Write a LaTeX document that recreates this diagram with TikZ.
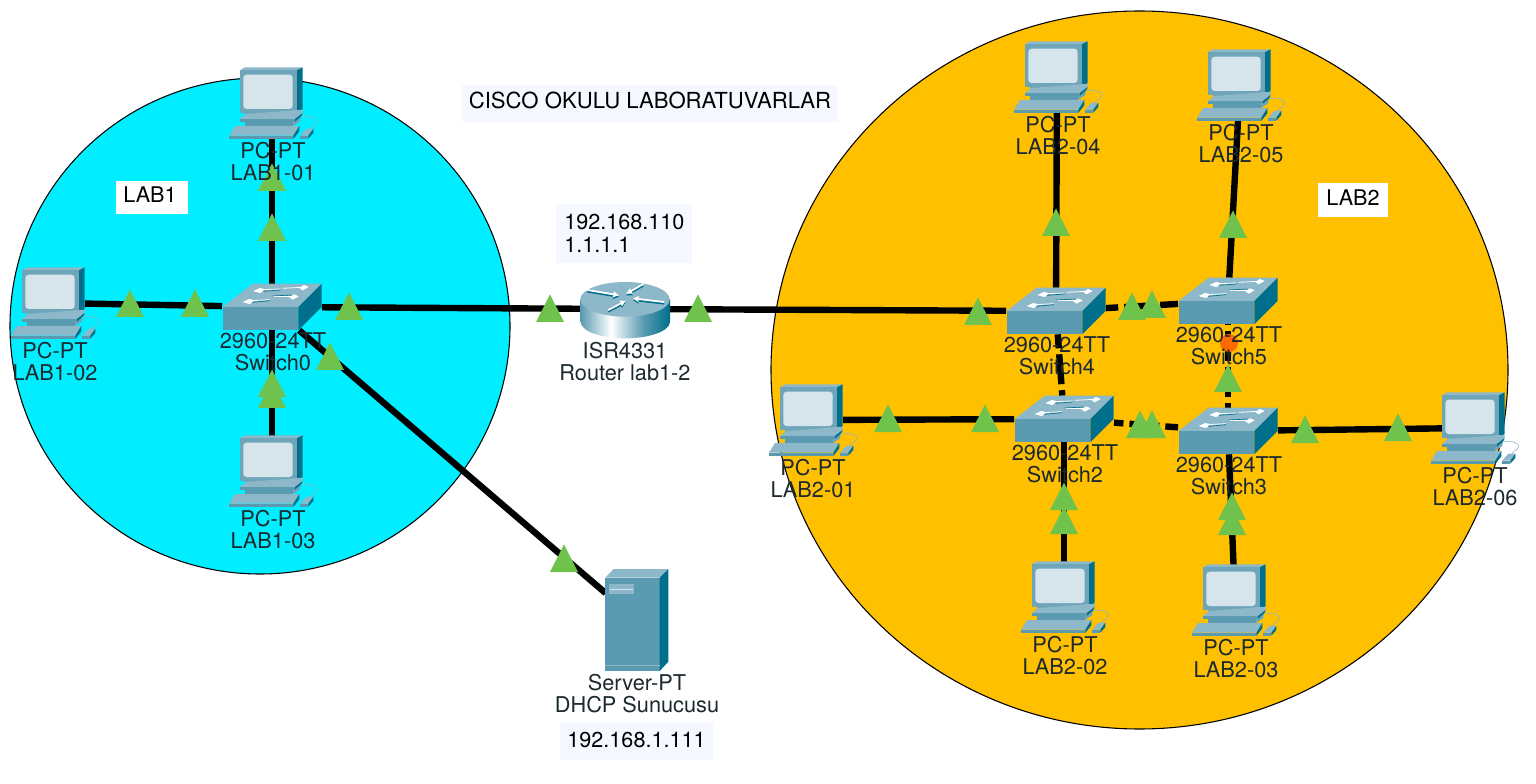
\documentclass[tikz,border=0pt]{standalone}
\usepackage{fontspec}
\setmainfont{TeX Gyre Heros}
\usetikzlibrary{calc,arrows.meta}
\definecolor{cyanbg}{HTML}{00EEFF}
\definecolor{orangebg}{HTML}{FFC000}
\definecolor{boxbg}{HTML}{F6F8FF}
\definecolor{tri}{HTML}{6FC24C}
\definecolor{dot}{HTML}{FF6A00}
\definecolor{ictop}{HTML}{8DB8C9}
\definecolor{icfront}{HTML}{5A9BB2}
\definecolor{icside}{HTML}{006F8C}
\definecolor{icscreen}{HTML}{D6E4EC}
\definecolor{icmid}{HTML}{6FA5B9}
\definecolor{txt}{HTML}{1C2A30}
\pgfdeclarehorizontalshading{rtrside}{100bp}{color(0bp)=(icfront); color(25bp)=(icfront); color(42bp)=(white); color(60bp)=(icfront); color(75bp)=(icside); color(100bp)=(icside)}
\tikzset{
  x=0.75pt,y=-0.75pt,
  region/.style={draw=black,line width=0.8pt},
  wire/.style={line width=4.8pt,draw=black},
  xwire/.style={wire,dash pattern=on 22.5pt off 4.5pt},
  pcbox/.style={minimum width=46.5pt,minimum height=52.5pt,inner sep=0pt,outer sep=0pt},
  swbox/.style={minimum width=75pt,minimum height=35pt,inner sep=0pt,outer sep=0pt},
  rtbox/.style={minimum width=67pt,minimum height=43pt,inner sep=0pt,outer sep=0pt},
  svbox/.style={minimum width=47pt,minimum height=76pt,inner sep=0pt,outer sep=0pt},
  devlabel/.style={inner sep=0pt,align=center,text=txt,font=\fontsize{16.3}{16.5}\selectfont},
  notetext/.style={inner sep=0pt,font=\fontsize{16.2}{17.3}\selectfont,text=black,align=left},
  icon/.style={x=0.25pt,y=-0.25pt},
  rarrow/.style={line width=1.3pt,-{Latex[length=4.5pt,width=5pt]}},
  pics/pcicon/.style={code={
    \begin{scope}[icon,shift={(-216,-160)}]
      \fill[ictop] (120,62)--(135,53)--(308,53)--(290,62)--cycle;
      \fill[icside] (290,62)--(308,53)--(308,178)--(290,190)--cycle;
      \fill[icmid] (120,62) rectangle (290,190);
      \fill[icscreen,rounded corners=2.5pt] (130,75) rectangle (278,178);
      \fill[icmid] (135,190)--(290,190)--(305,190)--(300,215)--(280,228)--(135,228)--cycle;
      \fill[ictop] (120,208)--(138,193)--(308,180)--(308,190)--(285,208)--cycle;
      \fill[icfront] (120,208) rectangle (285,216);
      \fill[icside] (285,216)--(285,208)--(308,190)--(305,198)--cycle;
      \fill[icfront] (135,216) rectangle (280,228);
      \fill[ictop] (87,258)--(105,229)--(298,229)--(280,258)--cycle;
      \fill[icfront] (87,258) rectangle (280,268);
      \fill[icside] (280,268)--(280,258)--(298,229)--(298,245)--cycle;
      \fill[ictop] (300,258)--(320,237)--(340,237)--(325,258)--cycle;
      \fill[icfront] (300,258) rectangle (325,267);
      \fill[icside] (325,267)--(325,258)--(340,237)--(340,250)--cycle;
      \draw[ictop,line width=0.45pt] (305,200) .. controls (330,198) and (352,205) .. (350,215) .. controls (348,226) and (335,228) .. (330,236);
    \end{scope}}},
  pics/swicon/.style={code={
    \begin{scope}[icon,shift={(-216,-110)}]
      \fill[ictop] (68,110)--(158,40)--(365,40)--(295,110)--cycle;
      \fill[icfront] (68,110) rectangle (295,180);
      \fill[icside] (295,110)--(365,40)--(365,110)--(295,180)--cycle;
      \foreach \ax/\ay/\bx/\by in {160/62/242/58, 128/95/210/90}{
        \fill[white] (\ax,\ay)--(\ax+20,\ay-9)--(\ax+32,\ay-6)--(\ax+30,\ay+2)--(\ax+20,\ay+6)--cycle;
        \draw[white,line width=0.6pt] (\ax+25,\ay-4)--(\bx,\by-2);
        \draw[icside,line width=0.5pt] (\ax+28,\ay+1)--(\bx,\by+1);
      }
      \foreach \ax/\ay/\bx/\by in {326/50/248/55, 296/78/218/80}{
        \fill[white] (\ax,\ay)--(\ax-14,\ay-6)--(\ax-28,\ay+3)--(\ax-18,\ay+10)--cycle;
        \draw[white,line width=0.6pt] (\ax-20,\ay+1)--(\bx,\by-1);
      }
      \draw[icside,line width=0.5pt] (218,77)--(275,74);
    \end{scope}}},
  pics/rticon/.style={code={
    \begin{scope}[icon,shift={(-285,-117)}]
      \path[shading=rtrside] (152,88)--(152,155) .. controls (152,183) and (211,205) .. (285,205) .. controls (359,205) and (420,183) .. (420,155)--(420,88)--cycle;
      \fill[ictop] (285,88) ellipse[x radius=134,y radius=52];
      \foreach \a/\b/\c/\d in {172/60/268/76, 402/96/308/85, 340/42/288/72, 235/120/288/92}{
        \draw[icside,rarrow] (\a,\b+5)--(\c,\d+5);
        \draw[white,rarrow] (\a,\b)--(\c,\d);
      }
    \end{scope}}},
  pics/svicon/.style={code={
    \begin{scope}[icon,shift={(-290,-240)}]
      \fill[ictop] (195,113)--(220,87)--(384,87)--(358,113)--cycle;
      \fill[icfront] (195,113) rectangle (358,393);
      \fill[icside] (358,113)--(384,87)--(384,365)--(358,393)--cycle;
      \fill[ictop] (207,133) rectangle (280,163);
      \draw[icscreen,line width=0.4pt] (210,148)--(277,148);
      \draw[ictop,line width=0.4pt] (195,375)--(358,375);
    \end{scope}}}
}
\begin{document}
\begin{tikzpicture}
\useasboundingbox (0,0) rectangle (1536,784);
\fill[white] (0,0) rectangle (1536,784);
\draw[region,fill=cyanbg] (260,326) ellipse[x radius=250,y radius=248];
\draw[region,fill=orangebg] (1139.5,370) ellipse[x radius=368.5,y radius=359];
% device nodes
\foreach \n/\x/\y in {pca/272/103,pcb/54/303,pcc/272/471,pcd/812/420,pce/1064/597,pcf/1235/600,pcg/1057/77,pch/1240/85,pci/1474/428}
  \node[pcbox] (\n) at (\x,\y) {};
\foreach \n/\x/\y in {swz/272/307,swf/1056/311,swv/1228/301,swt/1064/419,swh/1228/431}
  \node[swbox] (\n) at (\x,\y) {};
\node[rtbox] (rt) at (625,309) {};
\node[svbox] (sv) at (637,620) {};
% straight wires
\foreach \a/\b in {swz/pca,swz/pcb,swz/pcc,swz/rt,swz/sv,rt/swf,swf/pcg,swv/pch,swt/pcd,swt/pce,swh/pcf,swh/pci}
  \draw[wire] (\a) -- (\b);
% crossover wires
\draw[xwire,dash phase=13.3pt] (swf) -- (swv);
\draw[xwire,dash phase=12pt] (swf) -- (swt);
\draw[xwire,dash phase=15.4pt] (swt) -- (swh);
\draw[xwire,dash phase=18.75pt] (swh) -- (swv);
% icons
\foreach \n in {pca,pcb,pcc,pcd,pce,pcf,pcg,pch,pci} \pic at (\n) {pcicon};
\foreach \n in {swz,swf,swv,swt,swh} \pic at (\n) {swicon};
\pic at (rt) {rticon};
\pic at (sv) {svicon};
% link lights
\foreach \x/\y in {272/191,272/241,130/317,195/317,349/320,330/370,272/397,272/408,550/322,698/322,564/572,978/325,1056/236,1233/238,1132/320,1152/318,1140/438,1152/438,888/432,985/432,1064/510,1064/534,1232/520,1232/535,1305/443,1398/441,1228/392}
  \fill[tri] (\x-14,\y) -- (\x+14,\y) -- (\x,\y-27.5) -- cycle;
\fill[dot] (1229,343) circle[radius=9];
% device labels
\foreach \n/\t in {pca/LAB1-01,pcb/LAB1-02,pcc/LAB1-03,pcd/LAB2-01,pce/LAB2-02,pcf/LAB2-03,pcg/LAB2-04,pch/LAB2-05,pci/LAB2-06}
  \node[devlabel] (\n l) at ($(\n)+(1,59)$) {PC-PT\\\t};
\foreach \n/\t in {swz/Switch0,swf/Switch4,swv/Switch5,swt/Switch2,swh/Switch3}
  \node[devlabel] (\n l) at ($(\n)+(1,45)$) {2960-24TT\\\t};
\node[devlabel] (rtl) at (625,362) {ISR4331\\Router lab1-2};
\node[devlabel] (svl) at (637,694) {Server-PT\\DHCP Sunucusu};
% notes
\fill[white] (116,181) rectangle (188,214);
\node[notetext] (lab1) at (150,195) {LAB1};
\fill[white] (1318,183) rectangle (1388,217);
\node[notetext] (lab2) at (1353,198) {LAB2};
\fill[boxbg] (462,85) rectangle (838,122);
\node[notetext,font=\fontsize{16.6}{17.3}\selectfont] (title) at (650,100.5) {CISCO OKULU LABORATUVARLAR};
\fill[boxbg] (556,204) rectangle (692,263);
\node[notetext,anchor=west] (ip) at (564,233.5) {192.168.110\\1.1.1.1};
\fill[boxbg] (560,722) rectangle (713,760);
\node[notetext] (srvip) at (636.5,740) {192.168.1.111};
\end{tikzpicture}
\end{document}
